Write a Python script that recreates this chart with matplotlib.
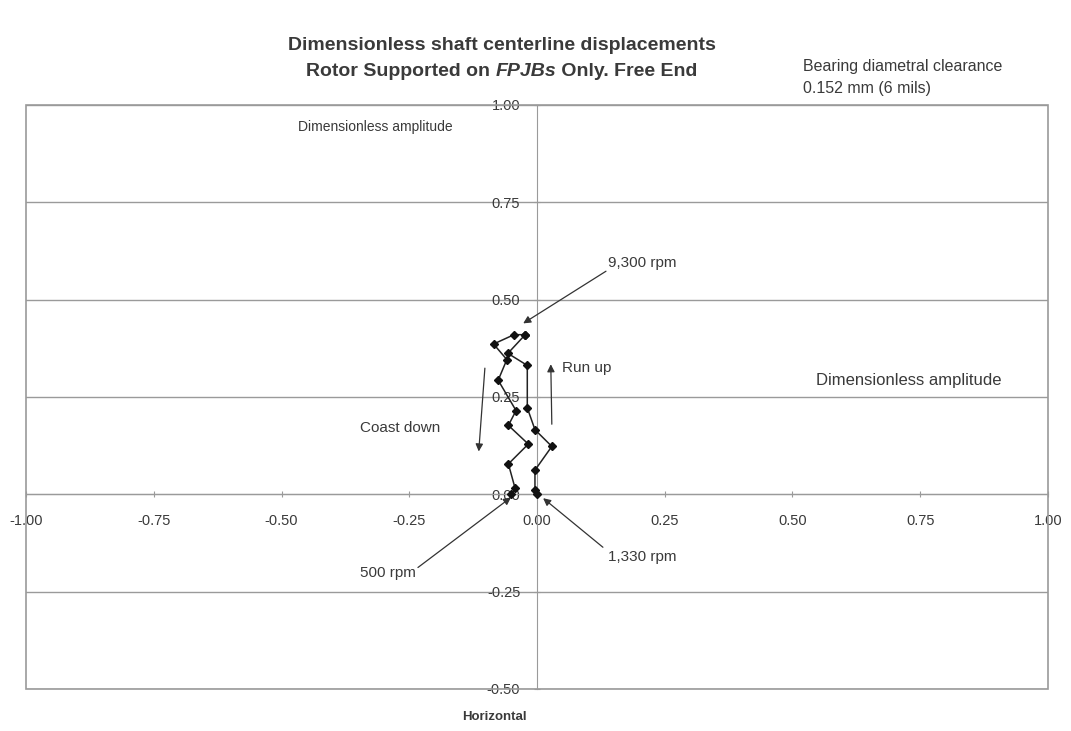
import matplotlib
matplotlib.use("Agg")
import matplotlib.pyplot as plt
from matplotlib.patches import Rectangle

plt.rcParams['font.family'] = ['Liberation Sans', 'DejaVu Sans']

# Shaft centerline orbit (dimensionless x, y)
run_up_x = [0.000, -0.004, -0.004, 0.029, -0.004, -0.019, -0.019, -0.057, -0.023]
run_up_y = [0.000, 0.012, 0.062, 0.123, 0.166, 0.222, 0.331, 0.362, 0.410]
coast_x = [-0.023, -0.045, -0.085, -0.059, -0.076, -0.041, -0.056, -0.017, -0.056, -0.043, -0.050]
coast_y = [0.410, 0.410, 0.386, 0.346, 0.293, 0.215, 0.177, 0.129, 0.078, 0.016, 0.000]

x_ticks = [-1.00, -0.75, -0.50, -0.25, 0.00, 0.25, 0.50, 0.75, 1.00]
y_ticks = [-0.50, -0.25, 0.00, 0.25, 0.50, 0.75, 1.00]

TXT = '#3a3a3a'
LN = '#9a9a9a'

fig = plt.figure(figsize=(10.71, 7.31), dpi=100)
ax = fig.add_axes([0.0243, 0.0575, 0.9542, 0.7989])
ax.set_xlim(-1, 1)
ax.set_ylim(-0.5, 1)

# horizontal gridlines
for yv in y_ticks:
    ax.axhline(yv, color=LN, lw=1.0, zorder=1)

# axes crossing at the origin
for s in ['top', 'right']:
    ax.spines[s].set_visible(False)
ax.spines['left'].set_position(('data', 0))
ax.spines['bottom'].set_position(('data', 0))
ax.spines['left'].set_color(LN)
ax.spines['bottom'].set_color(LN)
ax.add_patch(Rectangle((0, 0), 1, 1, transform=ax.transAxes, fill=False,
                       ec=LN, lw=1.2, zorder=2, clip_on=False))

ax.set_xticks(x_ticks)
ax.set_yticks(y_ticks)
ax.set_xticklabels([f'{v:.2f}' for v in x_ticks])
ax.set_yticklabels([f'{v:.2f}' for v in y_ticks])
ax.tick_params(axis='both', direction='inout', length=4, color=LN,
               labelsize=10.5, labelcolor=TXT)
ax.tick_params(axis='x', pad=12)
ax.tick_params(axis='y', pad=10)

# orbit
ax.plot(run_up_x, run_up_y, color='#222222', lw=1.1, marker='D', ms=3.6,
        mfc='#111111', mec='#111111', zorder=5)
ax.plot(coast_x, coast_y, color='#222222', lw=1.1, marker='D', ms=3.6,
        mfc='#111111', mec='#111111', zorder=5)

arrow_kw = dict(arrowstyle='-|>', color='#333333', lw=0.9, mutation_scale=11,
                shrinkA=0, shrinkB=0)

def arrow(tail, tip):
    ax.annotate('', xy=tip, xytext=tail, arrowprops=arrow_kw, zorder=6)

FS = 11
# speed callouts
ax.text(0.139, 0.593, '9,300 rpm', fontsize=FS, color=TXT, va='center', ha='left')
arrow((0.135, 0.573), (-0.027, 0.439))
ax.text(0.139, -0.162, '1,330 rpm', fontsize=FS, color=TXT, va='center', ha='left')
arrow((0.129, -0.136), (0.012, -0.010))
ax.text(-0.292, -0.203, '500 rpm', fontsize=FS, color=TXT, va='center', ha='center')
arrow((-0.233, -0.188), (-0.051, -0.008))

# direction arrows
ax.text(0.049, 0.324, 'Run up', fontsize=FS, color=TXT, va='center', ha='left')
arrow((0.029, 0.180), (0.027, 0.334))
ax.text(-0.268, 0.170, 'Coast down', fontsize=FS, color=TXT, va='center', ha='center')
arrow((-0.102, 0.324), (-0.114, 0.110))

# axis annotations
ax.text(-0.468, 0.943, 'Dimensionless amplitude', fontsize=10, color=TXT,
        va='center', ha='left')
ax.text(0.546, 0.293, 'Dimensionless amplitude', fontsize=12, color=TXT,
        va='center', ha='left')
fig.text(494 / 1071, 1 - 717 / 731, 'Horizontal', fontsize=9.5, fontweight='bold',
         color=TXT, ha='center', va='center')

fig.text(803 / 1071, 1 - 66 / 731, 'Bearing diametral clearance', fontsize=11.5,
         color=TXT, ha='left', va='center')
fig.text(803 / 1071, 1 - 88 / 731, '0.152 mm (6 mils)', fontsize=11.5,
         color=TXT, ha='left', va='center')

# title, second line with italic bearing acronym
TFS = 14
fig.text(502 / 1071, 1 - 46 / 731, 'Dimensionless shaft centerline displacements',
         fontsize=TFS, fontweight='bold', color=TXT, ha='center', va='center')
parts = [('Rotor Supported on ', 'normal'), ('FPJBs', 'italic'), (' Only. Free End', 'normal')]
renderer = fig.canvas.get_renderer()
objs = []
for s, st in parts:
    t = fig.text(0, 1 - 71 / 731, s, fontsize=TFS, fontweight='bold', style=st,
                 color=TXT, ha='left', va='center')
    objs.append(t)
widths = [t.get_window_extent(renderer).width for t in objs]
total = sum(widths)
x0 = 502 - total / 2
for t, w in zip(objs, widths):
    t.set_x(x0 / 1071)
    x0 += w

fig.savefig('out.png', dpi=100, facecolor='white')
